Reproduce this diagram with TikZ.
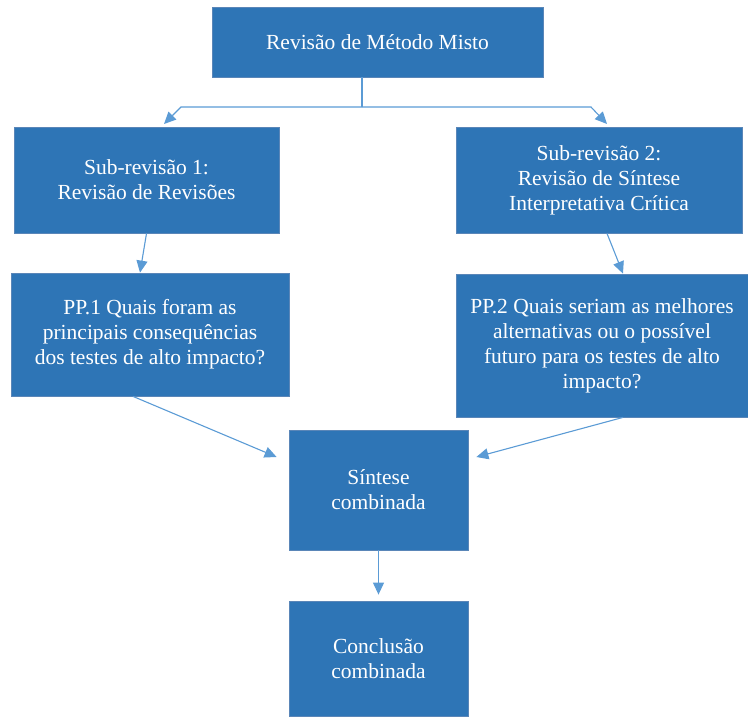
\documentclass[tikz,border=0pt]{standalone}
\usepackage{fontspec}
\setmainfont{Liberation Serif}
\usetikzlibrary{arrows.meta}
\definecolor{boxfill}{HTML}{2E75B6}
\definecolor{boxline}{HTML}{5A86B8}
\definecolor{arrowc}{HTML}{5B9BD5}
\tikzset{
  box/.style={draw=boxline, line width=0.8pt, fill=boxfill, text=white, align=center, inner sep=0pt,
    font=\fontsize{21.5}{25}\selectfont},
  arr/.style={draw=arrowc, line width=1.1pt, -{Triangle[length=12pt,width=11pt]}},
  ln/.style={draw=arrowc, line width=1.1pt}
}
\begin{document}
\begin{tikzpicture}[x=1pt,y=-1pt]
\useasboundingbox (0,0) rectangle (748,716);
\node[box, minimum width=331pt, minimum height=70pt] (top) at (377.5,42) {Revisão de Método Misto};
\node[box, minimum width=265pt, minimum height=106pt] (sub1) at (146.5,180) {Sub-revisão 1:\\Revisão de Revisões};
\node[box, minimum width=286pt, minimum height=106pt] (sub2) at (599,180) {Sub-revisão 2:\\Revisão de Síntese\\Interpretativa Crítica};
\node[box, minimum width=278pt, minimum height=123pt] (pp1) at (150,334.5) {PP.1 Quais foram as\\principais consequências\\dos testes de alto impacto?};
\node[box, minimum width=292pt, minimum height=143pt] (pp2) at (602,345.5) {PP.2 Quais seriam as melhores\\alternativas ou o possível\\futuro para os testes de alto\\impacto?};
\node[box, minimum width=179pt, minimum height=120pt] (syn) at (378.5,490) {Síntese\\combinada};
\node[box, minimum width=179pt, minimum height=115pt] (con) at (378.5,658.5) {Conclusão\\combinada};

\coordinate (j) at (362,107);
\coordinate (jl) at (181,107);
\coordinate (jr) at (591,107);
\coordinate (tl) at (164,124);
\coordinate (tr) at (607,124);
\draw[ln] ([xshift=-15.5pt]top.south) -- (j);
\draw[arr] (j) -- (jl) -- (tl);
\draw[arr] (j) -- (jr) -- (tr);
\draw[arr] (sub1.south) -- ([xshift=-10pt]pp1.north);
\draw[arr] ([xshift=8pt]sub2.south) -- ([xshift=21pt]pp2.north);
\draw[arr] ([xshift=-17pt]pp1.south) -- ([xshift=-12pt,yshift=33pt]syn.west);
\draw[arr] ([xshift=21pt]pp2.south) -- ([xshift=8pt,yshift=33pt]syn.east);
\draw[arr, shorten >=6pt] (syn.south) -- (con.north);
\end{tikzpicture}
\end{document}
